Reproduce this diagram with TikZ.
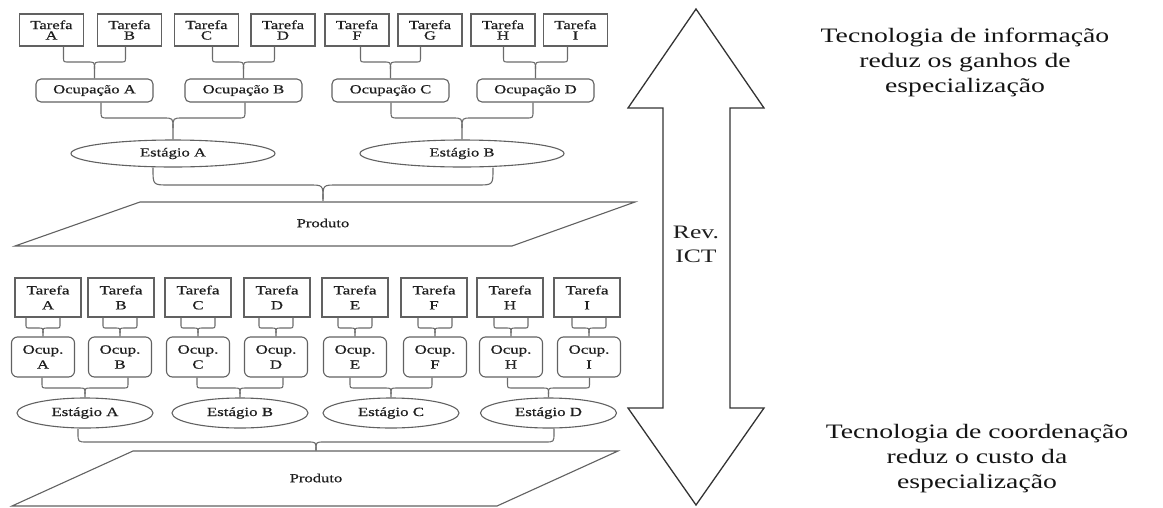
\documentclass[tikz,border=0pt]{standalone}
\usepackage{fontspec}
\setmainfont{Liberation Serif}[FakeStretch=1.35]
\newfontfamily\labelfont{Liberation Serif}[FakeStretch=1.35, FakeBold=0.7]
\usetikzlibrary{shapes.geometric,calc}

% brace-like connector: two legs (at parent x -/+ spread) merge into a cusp above the parent
% #1 left child, #2 right child, #3 parent, #4 half spread, #5 crossbar level,
% #6 leg corner radius, #7 cusp radius
\newcommand{\bracejoin}[7]{%
  \coordinate (bjm) at (#3.north |- 0,#5);
  \path ($(#3.north)+(-#4,0)$) coordinate (bjl) ($(#3.north)+(#4,0)$) coordinate (bjr);
  \coordinate (bjlc) at (bjl |- bjm);
  \coordinate (bjrc) at (bjr |- bjm);
  \draw[wire] (bjl |- #1.south) -- ($(bjlc)+(0,-#6)$) .. controls (bjlc) .. ($(bjlc)+(#6,0)$)
     -- ($(bjm)+(-#7,0)$) .. controls (bjm) .. ($(bjm)+(0,#7)$) -- (#3.north);
  \draw[wire] (bjr |- #2.south) -- ($(bjrc)+(0,-#6)$) .. controls (bjrc) .. ($(bjrc)+(-#6,0)$)
     -- ($(bjm)+(#7,0)$) .. controls (bjm) .. ($(bjm)+(0,#7)$);
}

\begin{document}
\begin{tikzpicture}[x=1pt,y=-1pt,
  line/.style={draw=black!62, line width=1.1pt},
  wire/.style={draw=black!58, line width=1.1pt, line join=round},
  lbl/.style={text=black!88, align=center, inner sep=0pt},
  taskA/.style={line, lbl, rectangle, minimum width=64pt, minimum height=32pt, font=\labelfont\fontsize{12.3}{10.5}\selectfont},
  occA/.style={line, lbl, rectangle, rounded corners=5pt, minimum width=117pt, minimum height=23pt, font=\labelfont\fontsize{12.3}{11}\selectfont},
  stageA/.style={line, lbl, ellipse, minimum width=204pt, minimum height=27pt, font=\labelfont\fontsize{12.3}{11}\selectfont},
  taskB/.style={line, lbl, rectangle, minimum width=66pt, minimum height=39pt, font=\labelfont\fontsize{12.5}{15}\selectfont},
  occB/.style={line, lbl, rectangle, rounded corners=6pt, minimum width=63pt, minimum height=40pt, font=\labelfont\fontsize{12.5}{15}\selectfont},
  stageB/.style={line, lbl, ellipse, minimum width=136pt, minimum height=30pt, font=\labelfont\fontsize{12.5}{15}\selectfont},
  prod/.style={lbl, minimum width=200pt, font=\labelfont\fontsize{12.3}{12}\selectfont},
  bigtxt/.style={lbl, text=black!92, font=\fontsize{20.5}{25}\selectfont},
]
\useasboundingbox (0,0) rectangle (1163,507);

% ---------- upper organisation ----------
\node[taskA] (t1A) at (51.5,30) {Tarefa\\A};
\node[taskA] (t1B) at (129.5,30) {Tarefa\\B};
\node[taskA] (t1C) at (206.5,30) {Tarefa\\C};
\node[taskA] (t1D) at (283,30) {Tarefa\\D};
\node[taskA] (t1F) at (357,30) {Tarefa\\F};
\node[taskA] (t1G) at (430,30) {Tarefa\\G};
\node[taskA] (t1H) at (503,30) {Tarefa\\H};
\node[taskA] (t1I) at (575.5,30) {Tarefa\\I};

\node[occA] (o1A) at (94.5,90.5) {Ocupação A};
\node[occA] (o1B) at (243.5,90.5) {Ocupação B};
\node[occA] (o1C) at (390.5,90.5) {Ocupação C};
\node[occA] (o1D) at (535.5,90.5) {Ocupação D};

\node[stageA] (s1A) at (173,153.5) {Estágio A};
\node[stageA] (s1B) at (462,153.5) {Estágio B};

\draw[line] (140,202) -- (635,202) -- (512,246) -- (15,246) -- cycle;
\node[prod, minimum height=44pt] (p1) at (323,223) {Produto};

\bracejoin{t1A}{t1B}{o1A}{31}{62}{5}{7}
\bracejoin{t1C}{t1D}{o1B}{31}{62}{5}{7}
\bracejoin{t1F}{t1G}{o1C}{30}{62}{5}{7}
\bracejoin{t1H}{t1I}{o1D}{32}{62}{5}{7}
\bracejoin{o1A}{o1B}{s1A}{72}{118}{7}{10}
\bracejoin{o1C}{o1D}{s1B}{71}{118}{7}{10}
\bracejoin{s1A}{s1B}{p1}{170}{185}{16}{14}

% ---------- lower organisation ----------
\node[taskB] (t2A) at (48,297.5) {Tarefa\\A};
\node[taskB] (t2B) at (121,297.5) {Tarefa\\B};
\node[taskB] (t2C) at (198,297.5) {Tarefa\\C};
\node[taskB] (t2D) at (277,297.5) {Tarefa\\D};
\node[taskB] (t2E) at (355,297.5) {Tarefa\\E};
\node[taskB] (t2F) at (434,297.5) {Tarefa\\F};
\node[taskB] (t2H) at (510,297.5) {Tarefa\\H};
\node[taskB] (t2I) at (587,297.5) {Tarefa\\I};

\node[occB] (o2A) at (43,357) {Ocup.\\A};
\node[occB] (o2B) at (120,357) {Ocup.\\B};
\node[occB] (o2C) at (198,357) {Ocup.\\C};
\node[occB] (o2D) at (276,357) {Ocup.\\D};
\node[occB] (o2E) at (355,357) {Ocup.\\E};
\node[occB] (o2F) at (435,357) {Ocup.\\F};
\node[occB] (o2H) at (511,357) {Ocup.\\H};
\node[occB] (o2I) at (589,357) {Ocup.\\I};

\node[stageB] (s2A) at (85,413) {Estágio A};
\node[stageB] (s2B) at (240,413) {Estágio B};
\node[stageB] (s2C) at (391,413) {Estágio C};
\node[stageB] (s2D) at (548.5,413) {Estágio D};

\draw[line] (133,451) -- (618,451) -- (497,506) -- (12,506) -- cycle;
\node[prod, minimum height=54pt] (p2) at (316,478) {Produto};

\foreach \t/\o in {t2A/o2A,t2B/o2B,t2C/o2C,t2D/o2D,t2E/o2E,t2F/o2F,t2H/o2H,t2I/o2I}
  {\bracejoin{\t}{\t}{\o}{17}{328}{4}{5}}
\bracejoin{o2A}{o2B}{s2A}{43}{388}{5}{6}
\bracejoin{o2C}{o2D}{s2B}{43}{388}{5}{6}
\bracejoin{o2E}{o2F}{s2C}{41}{388}{5}{6}
\bracejoin{o2H}{o2I}{s2D}{41}{388}{5}{6}
\bracejoin{s2A}{s2D}{p2}{238}{442}{9}{8}

% ---------- double arrow ----------
\draw[draw=black!80, line width=1.3pt, line join=miter]
  (696,9) -- (764,108) -- (730,108) -- (730,408) -- (764,408) -- (696,505)
  -- (628,408) -- (663,408) -- (663,108) -- (628,108) -- cycle;
\node[lbl, font=\fontsize{19}{24}\selectfont] (ict) at (696,244) {Rev.\\ICT};

% ---------- captions ----------
\node[bigtxt] (infotxt) at (965,62.6) {Tecnologia de informação\\reduz os ganhos de\\especialização};
\node[bigtxt] (coordtxt) at (977,459) {Tecnologia de coordenação\\reduz o custo da\\especialização};
\end{tikzpicture}
\end{document}
